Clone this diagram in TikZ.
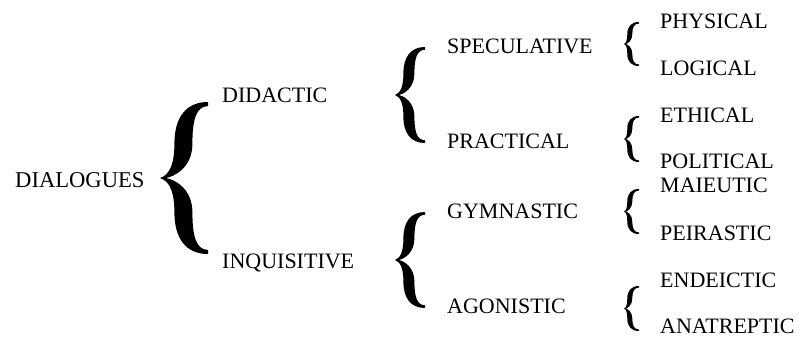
\documentclass[tikz,border=0pt]{standalone}
\usepackage{fontspec}
\setmainfont{Liberation Serif}
\tikzset{
  lbl/.style={anchor=base west, inner sep=0pt, font=\fontsize{22}{26}\selectfont},
  pics/curlybrace/.style n args={4}{code={
    \pgfmathsetmacro\bH{#1}
    \pgfmathsetmacro\bW{#2}
    \pgfmathsetmacro\bT{#3}
    \pgfmathsetmacro\bB{#4*#2}
    \pgfmathsetmacro\bE{0.2*#3+0.5}
    \pgfmathsetmacro\bC{0.12*#2}
    \fill[black]
      (0,0) .. controls ({0.7*\bB},{-0.04*\bH}) and ({\bB},{-0.2*\bH}) .. ({\bB},{-0.45*\bH})
      .. controls ({\bB},{-0.8*\bH}) and ({\bB+0.35*(\bW-\bB)},{-\bH}) .. ({\bW},{-\bH})
      -- ({\bW},{-\bH+\bE})
      .. controls ({\bB+0.35*(\bW-\bB)+0.5*\bT},{-\bH+\bE}) and ({\bB+\bT},{-0.8*\bH+0.3*\bT}) .. ({\bB+\bT},{-0.45*\bH})
      .. controls ({\bB+\bT},{-0.15*\bH}) and ({0.7*\bB+0.3*\bT},{-0.02*\bH}) .. ({\bC},0)
      .. controls ({0.7*\bB+0.3*\bT},{0.02*\bH}) and ({\bB+\bT},{0.15*\bH}) .. ({\bB+\bT},{0.45*\bH})
      .. controls ({\bB+\bT},{0.8*\bH-0.3*\bT}) and ({\bB+0.35*(\bW-\bB)+0.5*\bT},{\bH-\bE}) .. ({\bW},{\bH-\bE})
      -- ({\bW},{\bH})
      .. controls ({\bB+0.35*(\bW-\bB)},{\bH}) and ({\bB},{0.8*\bH}) .. ({\bB},{0.45*\bH})
      .. controls ({\bB},{0.2*\bH}) and ({0.7*\bB},{0.04*\bH}) .. (0,0) -- cycle;
  }}
}
\begin{document}
\begin{tikzpicture}[x=1pt,y=-1pt]
  \useasboundingbox (0,0) rectangle (800,338);
  % text nodes
  \node[lbl,font=\fontsize{22.6}{26}\selectfont] (dialogues) at (15,187) {DIALOGUES};
  \node[lbl] (didactic)    at (222,102) {DIDACTIC};
  \node[lbl] (inquisitive) at (222,268) {INQUISITIVE};
  \node[lbl] (speculative) at (447,53)  {SPECULATIVE};
  \node[lbl] (practical)   at (447,148) {PRACTICAL};
  \node[lbl] (gymnastic)   at (447,218) {GYMNASTIC};
  \node[lbl] (agonistic)   at (447,313) {AGONISTIC};
  \node[lbl] (physical)    at (660,28)  {PHYSICAL};
  \node[lbl] (logical)     at (660,75)  {LOGICAL};
  \node[lbl] (ethical)     at (660,122) {ETHICAL};
  \node[lbl] (political)   at (660,168) {POLITICAL};
  \node[lbl] (maieutic)    at (660,192) {MAIEUTIC};
  \node[lbl] (peirastic)   at (660,240) {PEIRASTIC};
  \node[lbl] (endeictic)   at (660,287) {ENDEICTIC};
  \node[lbl] (anatreptic)  at (660,333) {ANATREPTIC};
  % braces
  \pic at (160,178) {curlybrace={76}{48}{18}{0.3}};
  \pic at (395,95)  {curlybrace={48}{30}{11}{0.28}};
  \pic at (395,260) {curlybrace={48}{30}{11}{0.28}};
  \pic at (624,44)  {curlybrace={22}{15}{5}{0.22}};
  \pic at (624,139) {curlybrace={23}{15}{5}{0.22}};
  \pic at (624,211.5) {curlybrace={22.5}{15}{5}{0.22}};
  \pic at (624,308.5) {curlybrace={22.5}{15}{5}{0.22}};
\end{tikzpicture}
\end{document}
